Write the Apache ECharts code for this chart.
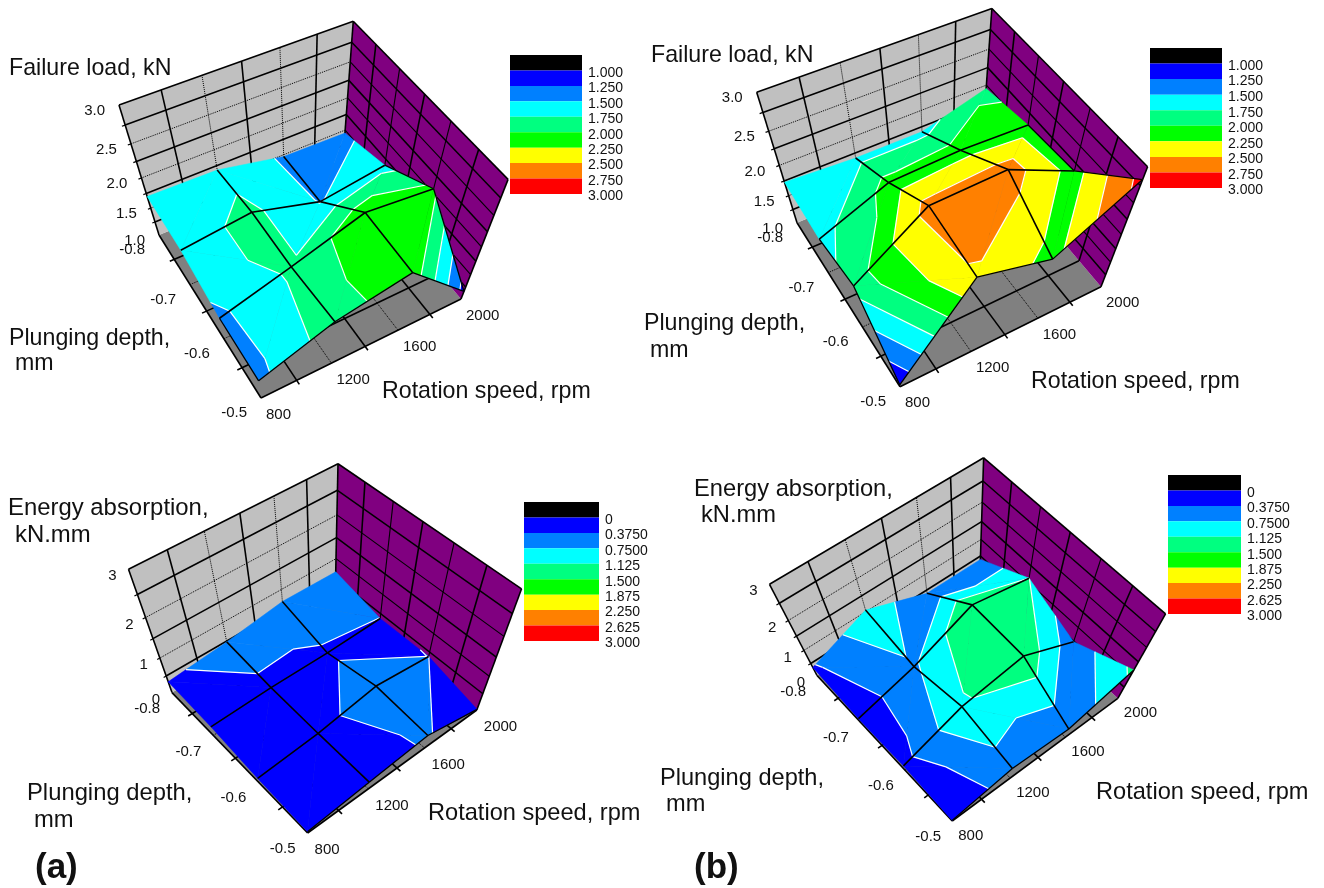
<!DOCTYPE html>
<html><head><meta charset="utf-8"><style>html,body{margin:0;background:#fff}#c{width:1324px;height:888px}</style>
<script src="https://cdn.jsdelivr.net/npm/echarts@6/dist/echarts.min.js"></script></head>
<body><div id="c"></div><script>
const rotationSpeeds=[800,1200,1600,2000];
const plungingDepths=[-0.8,-0.7,-0.6,-0.5];
const failureLoadA=[[1.70,1.68,1.47,1.45],[1.67,1.80,1.49,1.65],[1.45,1.80,2.17,2.06],[1.43,1.90,2.14,1.16]];
const failureLoadB=[[1.73,1.67,1.67,1.95],[1.65,2.08,2.12,2.08],[1.85,2.59,2.62,2.14],[1.05,2.48,2.16,2.83]];
const energyA=[[0.33,0.48,0.69,0.67],[0.28,0.33,0.32,0.37],[0.13,0.27,0.55,0.376],[0.05,0.24,0.41,0.02]];
const energyB=[[0.34,1.05,0.39,0.39],[0.14,0.69,1.48,1.13],[0.24,1.07,1.40,0.48],[0.05,0.58,0.42,1.20]];
const failureLevels=[1,1.25,1.5,1.75,2,2.25,2.5,2.75,3];
const energyLevels=[0,0.375,0.75,1.125,1.5,1.875,2.25,2.625,3];
const failureLegendLabels=['1.000','1.250','1.500','1.750','2.000','2.250','2.500','2.750','3.000'];
const energyLegendLabels=['0','0.3750','0.7500','1.125','1.500','1.875','2.250','2.625','3.000'];
const bandColors=['#000000','#0000ff','#0080ff','#00ffff','#00ff80','#00ff00','#ffff00','#ff8000','#ff0000'];
const failureTicks=['1.0','1.5','2.0','2.5','3.0'];
const energyTicks=['0','1','2','3'];

const FONT='Liberation Sans, Arial, sans-serif';
const panels=[
 {values:failureLoadA,levels:failureLevels,legend:failureLegendLabels,ticks:failureTicks,rows:8,
  F00:[159,235],F10:[343,159],F01:[261,398],F11:[461,299],T00:[119,105],T11:[509,177],
  leg:[510,582,55,194],tickOff:[-14,6],depthOff:[-14,15],speedOff:[5,16.5],leftFrom:2,
  diag:['aba','baa','aaa']},
 {values:failureLoadB,levels:failureLevels,legend:failureLegendLabels,ticks:failureTicks,rows:8,
  F00:[797,222.7],F10:[982,146.3],F01:[900,386.7],F11:[1101,286.7],T00:[756.7,92.3],T11:[1148,165.7],
  leg:[1150,1222,48,188],tickOff:[-14,6],depthOff:[-14,15],speedOff:[5,16.5],leftFrom:1,
  diag:['aaa','aaa','baa']},
 {values:energyA,levels:energyLevels,legend:energyLegendLabels,ticks:energyTicks,rows:6,
  F00:[172,692.6],F10:[335.2,596.6],F01:[307.6,833],F11:[476.8,710],T00:[128.5,569.3],T11:[520,593],
  leg:[524,599,502,641],tickOff:[-12,7],depthOff:[-12,16],speedOff:[7,17],leftFrom:4,
  diag:['bbb','aab','aba']},
 {values:energyB,levels:energyLevels,legend:energyLegendLabels,ticks:energyTicks,rows:6,
  F00:[817,675.5],F10:[980,571.2],F01:[952.2,821],F11:[1117.8,698.3],T00:[769.5,584.3],T11:[1167.2,611],
  leg:[1168,1241,475,614],tickOff:[-12,7],depthOff:[-11,16],speedOff:[6,15],leftFrom:4,
  diag:['bab','aaa','bba']}
];
const titleLayout=[
 ['Failure load, kN',9,69,23.2],['Plunging depth,',9,339,23.2],['mm',15,364,23.2],['Rotation speed, rpm',382,392,23.2],
 ['Failure load, kN',651,56,23.2],['Plunging depth,',644,324,23.2],['mm',650,351,23.2],['Rotation speed, rpm',1031,382,23.2],
 ['Energy absorption,',8,508,23.9],['kN.mm',15,535,23.9],['Plunging depth,',27,793,23.8],['mm',34,820,23.8],['Rotation speed, rpm',428,813,23.6],
 ['Energy absorption,',694,489,23.7],['kN.mm',701,515,23.7],['Plunging depth,',660,778,23.6],['mm',666,804,23.6],['Rotation speed, rpm',1096,792,23.6]
];
const letterLayout=[['(a)',35,868],['(b)',694,868]];

function makeCamera(p){
 const [x0,y0]=p.F00,[x1,y1]=p.F10,[x2,y2]=p.F11,[x3,y3]=p.F01;
 const dx1=x1-x2,dx2=x3-x2,sx=x0-x1+x2-x3,dy1=y1-y2,dy2=y3-y2,sy=y0-y1+y2-y3,D=dx1*dy2-dx2*dy1;
 const g=(sx*dy2-dx2*sy)/D,h=(dx1*sy-sx*dy1)/D;
 const H={a:x1-x0+g*x1,b:x3-x0+h*x3,c:x0,d:y1-y0+g*y1,e:y3-y0+h*y3,f:y0,g,h};
 const m1=(p.T00[0]-x0)/(p.T00[1]-y0),m2=(p.T11[0]-x2)/(p.T11[1]-y2);
 const ny=(x2-x0+m1*y0-m2*y2)/(m1-m2),nx=x0+m1*(ny-y0),s=(p.T00[1]-y0)/(ny-p.T00[1]);
 return (u,v,w)=>{const X=H.a*u+H.b*v+H.c,Y=H.d*u+H.e*v+H.f,W=H.g*u+H.h*v+1;
  return [(X+w*s*nx)/(W+w*s),(Y+w*s*ny)/(W+w*s)];};
}
const U=s=>(s-rotationSpeeds[0])/(rotationSpeeds[3]-rotationSpeeds[0]);
const V=d=>(d-plungingDepths[0])/(plungingDepths[3]-plungingDepths[0]);
const seg=(api,a,b,lw,dash,col)=>{const A=api.coord(a),B=api.coord(b);
 return {type:'line',silent:true,shape:{x1:A[0],y1:A[1],x2:B[0],y2:B[1]},style:{stroke:col||'#000',lineWidth:lw,lineDash:dash||null}};};
const poly=(api,pts,fill,sw)=>({type:'polygon',silent:true,shape:{points:pts.map(q=>api.coord(q))},style:{fill:fill,stroke:sw?fill:null,lineWidth:sw||0}});
const txt=(api,t,x,y,size,align,bold)=>{const A=api.coord([x,y]);
 return {type:'text',silent:true,style:{x:A[0],y:A[1],text:t,fill:'#111',font:(bold?'bold ':'')+size+'px '+FONT,align:align||'left',verticalAlign:'middle',textAlign:align||'left',textVerticalAlign:'middle'}};};

function frameItem(p,P,api){
 const ch=[];
 ch.push(poly(api,[P(0,0,0),P(1,0,0),P(1,1,0),P(0,1,0)],'#808080'));
 ch.push(poly(api,[P(0,0,0),P(1,0,0),P(1,0,1),P(0,0,1)],'#c0c0c0'));
 ch.push(poly(api,[P(1,0,0),P(1,1,0),P(1,1,1),P(1,0,1)],'#800080'));
 const style=k=>k%2?[1.6,null]:[1,[1,1]];
 const ov=0.022;
 for(let k=1;k<6;k++){const t=k/6,[lw,d]=style(k),o=k%2?ov:0;
  ch.push(seg(api,P(t,0,0),P(t,0,1),lw,d));
  ch.push(seg(api,P(1,t,0),P(1,t,1),k%2?1.6:1.1,null));
  ch.push(seg(api,P(t,0,0),P(t,1+o,0),lw,d));
  ch.push(seg(api,P(-o,t,0),P(1,t,0),lw,d));
 }
 for(let k=1;k<p.rows;k++){const w=1-k/p.rows,[lw,d]=style(k);
  ch.push(seg(api,P(-ov*0.6,0,w),P(0,0,w),1.2));
  ch.push(seg(api,P(0,0,w),P(1,0,w),lw,d));
  ch.push(seg(api,P(1,0,w),P(1,1,w),k%2?1.5:1.1,null));
 }
 [[P(0,0,1),P(1,0,1)],[P(1,0,1),P(1,1,1)],[P(0,0,0),P(0,0,1)],[P(1,1,0),P(1,1,1)],[P(1,0,0),P(1,0,1)],
  [P(0,0,0),P(0,1,0)],[P(0,1,0),P(1,1,0)]].forEach(e=>ch.push(seg(api,e[0],e[1],1.6)));
 return {type:'group',children:ch};
}
function clip(pl,L,above){const out=[];
 for(let n=0;n<pl.length;n++){const a=pl[n],b=pl[(n+1)%pl.length];
  const ia=above?a[2]>=L:a[2]<=L,ib=above?b[2]>=L:b[2]<=L;
  if(ia)out.push(a);
  if(ia!==ib){const t=(L-a[2])/(b[2]-a[2]);out.push([a[0]+t*(b[0]-a[0]),a[1]+t*(b[1]-a[1]),L]);}
 }return out;}
function nodeTools(p,P){
 const lv=p.levels,zmin=lv[0],zmax=lv[lv.length-1],Z=x=>(x-zmin)/(zmax-zmin);
 return {nd:(a,b)=>[U(rotationSpeeds[a]),V(plungingDepths[b]),p.values[b][a]],pj:q=>P(q[0],q[1],Z(q[2]))};
}
function cellItem(p,P,api,i,j){
 const lv=p.levels,{nd,pj}=nodeTools(p,P);
 const n00=nd(i,j),n10=nd(i+1,j),n01=nd(i,j+1),n11=nd(i+1,j+1);
 const tris=p.diag[j][i]==='a'?[[n00,n10,n01],[n10,n11,n01]]:[[n00,n10,n11],[n00,n11,n01]];
 const ch=[];
 tris.forEach(tri=>{
  for(let k=0;k<lv.length-1;k++){
   const c=clip(clip(tri,lv[k],true),lv[k+1],false);
   if(c.length>=3)ch.push(poly(api,c.map(pj),bandColors[k+1],0.5));
  }
 });
 tris.forEach(tri=>{
  lv.forEach(L=>{const pts=[];
   for(let n=0;n<3;n++){const a=tri[n],b=tri[(n+1)%3];
    if((a[2]-L)*(b[2]-L)<0){const t=(L-a[2])/(b[2]-a[2]);pts.push([a[0]+t*(b[0]-a[0]),a[1]+t*(b[1]-a[1]),L]);}}
   if(pts.length===2)ch.push(seg(api,pj(pts[0]),pj(pts[1]),1.2,null,'#ffffff'));
  });
 });
 return {type:'group',children:ch};
}
function meshItem(p,P,api,i,j){
 const {nd,pj}=nodeTools(p,P),ch=[];
 const n00=nd(i,j),n10=nd(i+1,j),n01=nd(i,j+1),n11=nd(i+1,j+1);
 const edge=(a,b,lw)=>ch.push(seg(api,pj(a),pj(b),lw));
 edge(n01,n11,j<2?1.6:1.3);
 if(i>0)edge(n00,n01,1.6); else if(j>=p.leftFrom)edge(n00,n01,1.3);
 if(i===2&&j>0&&p.rows===8)edge(n10,n11,1.3);
 return {type:'group',children:ch};
}
function labelItem(p,P,api){
 const a=api.value(0),idx=api.value(1),ch=[];
 if(a===0){const w=idx/(p.ticks.length-1),q=P(0,0,w);ch.push(txt(api,p.ticks[idx],q[0]+p.tickOff[0],q[1]+p.tickOff[1],15,'right'));}
 if(a===1){const q=P(0,V(plungingDepths[idx]),0);ch.push(txt(api,String(plungingDepths[idx]),q[0]+p.depthOff[0],q[1]+p.depthOff[1],15,'right'));}
 if(a===2){const q=P(U(rotationSpeeds[idx]),1,0);ch.push(txt(api,String(rotationSpeeds[idx]),q[0]+p.speedOff[0],q[1]+p.speedOff[1],15,'left'));}
 return {type:'group',children:ch};
}
function legendItem(p,api){
 const k=api.value(0),[x0,x1,y0,y1]=p.leg,h=(y1-y0)/bandColors.length;
 const A=api.coord([x0,y0+k*h]),B=api.coord([x1,y0+(k+1)*h]);
 return {type:'group',children:[
  {type:'rect',silent:true,shape:{x:A[0],y:A[1],width:B[0]-A[0],height:B[1]-A[1]},style:{fill:bandColors[k]}},
  txt(api,p.legend[k],x1+6,y0+(k+1)*h+2.5,14,'left')]};
}
const base={type:'custom',coordinateSystem:'cartesian2d',animation:false,silent:true,clip:false,encode:{x:0,y:1}};
const series=[];
panels.forEach(p=>{
 const P=makeCamera(p);
 series.push(Object.assign({},base,{data:[[0,0]],renderItem:(_,api)=>frameItem(p,P,api)}));
 const cells=[];for(let j=0;j<3;j++)for(let i=2;i>=0;i--)cells.push([i,j]);
 series.push(Object.assign({},base,{data:cells,renderItem:(_,api)=>cellItem(p,P,api,api.value(0),api.value(1))}));
 series.push(Object.assign({},base,{data:cells,renderItem:(_,api)=>meshItem(p,P,api,api.value(0),api.value(1))}));
 const lab=[];p.ticks.forEach((t,n)=>lab.push([0,n]));plungingDepths.forEach((t,n)=>lab.push([1,n]));rotationSpeeds.forEach((t,n)=>lab.push([2,n]));
 series.push(Object.assign({},base,{data:lab,renderItem:(_,api)=>labelItem(p,P,api)}));
 series.push(Object.assign({},base,{data:bandColors.map((c,k)=>[k,0]),renderItem:(_,api)=>legendItem(p,api)}));
});
series.push(Object.assign({},base,{data:titleLayout.map((t,k)=>[k,0]),renderItem:(_,api)=>{const t=titleLayout[api.value(0)];return txt(api,t[0],t[1],t[2],t[3],'left');}}));
series.push(Object.assign({},base,{data:letterLayout.map((t,k)=>[k,0]),renderItem:(_,api)=>{const t=letterLayout[api.value(0)];return txt(api,t[0],t[1],t[2],35,'left',true);}}));
const chart=echarts.init(document.getElementById('c'),null,{renderer:'canvas',width:1324,height:888});
chart.setOption({animation:false,backgroundColor:'#fff',
 grid:{left:0,right:0,top:0,bottom:0},
 xAxis:{type:'value',min:0,max:1324,show:false},
 yAxis:{type:'value',min:0,max:888,inverse:true,show:false},
 series});
</script></body></html>
